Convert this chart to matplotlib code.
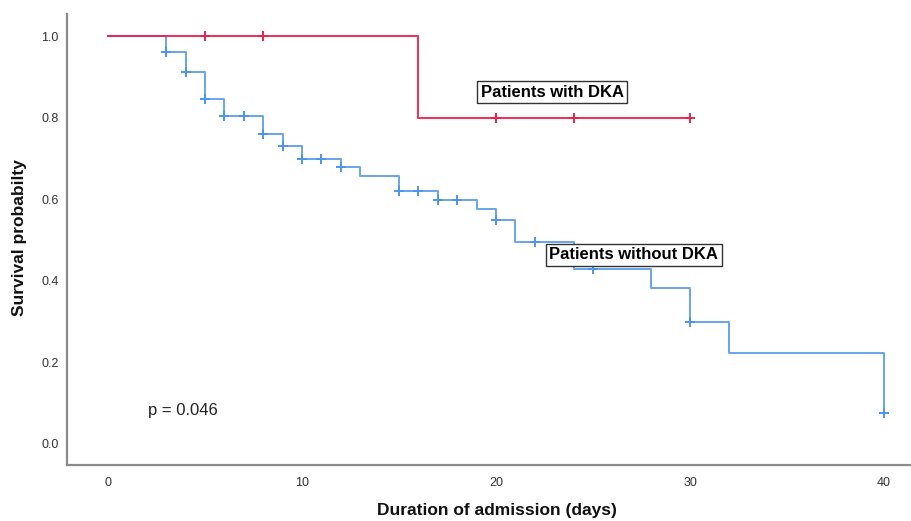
import numpy as np
import matplotlib
matplotlib.use("Agg")
import matplotlib.pyplot as plt

plt.rcParams['font.family'] = ['Liberation Sans', 'DejaVu Sans']

# Patients without DKA (blue)
blue_times = [0, 3, 4, 5, 6, 8, 9, 10, 12, 13, 15, 17, 19, 20, 21, 24, 28, 30, 32, 40]
blue_surv = [1.0, 0.962, 0.911, 0.846, 0.804, 0.761, 0.731, 0.698, 0.678, 0.658,
             0.620, 0.598, 0.575, 0.550, 0.494, 0.428, 0.382, 0.298, 0.224, 0.075]
blue_censor = [3, 4, 5, 6, 7, 8, 9, 10, 11, 12, 15, 16, 17, 18, 20, 22, 25, 30, 40]

# Patients with DKA (red)
red_times = [0, 16, 30]
red_surv = [1.0, 0.8, 0.8]
red_censor = [5, 8, 20, 24, 30]

xticks = [0, 10, 20, 30, 40]
yticks = [0.0, 0.2, 0.4, 0.6, 0.8, 1.0]

blue_c = '#4f95e8'
red_c = '#e3244f'


def surv_at(times, surv, t):
    idx = np.searchsorted(times, t, side='right') - 1
    return np.asarray(surv)[idx]


fig = plt.figure(figsize=(9.12, 5.21), dpi=100)
ax = fig.add_axes([67 / 912, (521 - 465) / 521, (912 - 67) / 912, (465 - 14) / 521])

ax.step(blue_times, blue_surv, where='post', color=blue_c, lw=1.4, alpha=0.85)
ax.plot(blue_censor, surv_at(blue_times, blue_surv, blue_censor), ls='none',
        marker='+', ms=7, mew=1.4, color=blue_c)
ax.step(red_times, red_surv, where='post', color=red_c, lw=1.5, alpha=0.9)
ax.plot(red_censor, surv_at(red_times, red_surv, red_censor), ls='none',
        marker='+', ms=7, mew=1.4, color=red_c)

ax.set_xlim(-2.11, 41.44)
ax.set_ylim(-0.0516, 1.054)
ax.set_xticks(xticks)
ax.set_xticklabels([str(t) for t in xticks])
ax.set_yticks(yticks)
ax.set_yticklabels([f"{t:.1f}" for t in yticks])
ax.tick_params(axis='both', length=0, labelsize=9, colors='#333333')
ax.tick_params(axis='y', pad=6)
ax.tick_params(axis='x', pad=9)

for s in ['top', 'right']:
    ax.spines[s].set_visible(False)
for s in ['left', 'bottom']:
    ax.spines[s].set_color('#8a8a8a')
    ax.spines[s].set_linewidth(1.6)

ax.text(22.9, 0.862, 'Patients with DKA', fontsize=12, fontweight='bold',
        ha='center', va='center',
        bbox=dict(boxstyle='square,pad=0.2', fc='white', ec='#333333', lw=1.0))
ax.text(27.1, 0.464, 'Patients without DKA', fontsize=12, fontweight='bold',
        ha='center', va='center',
        bbox=dict(boxstyle='square,pad=0.2', fc='white', ec='#333333', lw=1.0))
ax.text(2.05, 0.082, 'p = 0.046', fontsize=12, ha='left', va='center', color='#222222')

fig.text(497 / 912, 1 - 510 / 521, 'Duration of admission (days)', fontsize=12.5,
         fontweight='bold', ha='center', va='center', color='#111111')
fig.text(20 / 912, 1 - 238 / 521, 'Survival probabilty', fontsize=12.5,
         fontweight='bold', ha='center', va='center', rotation=90, color='#111111')

fig.savefig('out.png', dpi=100, facecolor='white')
